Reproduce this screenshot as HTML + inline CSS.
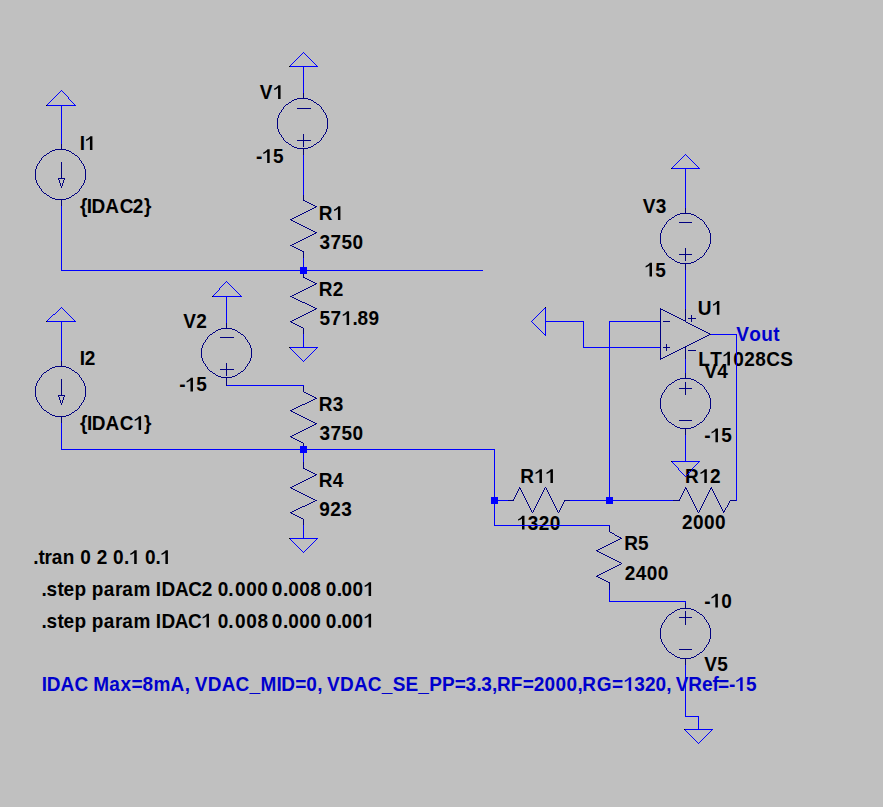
<!DOCTYPE html><html><head><meta charset="utf-8"><style>
html,body{margin:0;padding:0;background:#c0c0c0;}
body{width:883px;height:807px;overflow:hidden;}
svg{display:block;}
text{font-family:"Liberation Sans",sans-serif;font-weight:bold;font-size:19px;white-space:pre;}
</style></head><body>
<svg width="883" height="807" viewBox="0 0 883 807">
<rect x="0" y="0" width="883" height="807" fill="#c0c0c0"/>
<g>
<text x="79.73" y="0" fill="#000000" transform="translate(0,150.00) scale(1,1.050)">I</text>
<path fill="#000000" transform="translate(84.73,150.00) scale(0.009277,-0.009741)" d="M830 0L560 0L560 1150C480 1080 390 1020 290 975C230 948 185 930 140 915L140 1075C260 1115 360 1175 440 1245C510 1305 565 1360 600 1409L830 1409Z"/>
<text x="79.94 86.83 91.58 105.33 119.72 132.64 143.90" y="0" fill="#000000" transform="translate(0,213.00) scale(1,1.050)">{IDAC2}</text>
<text x="79.73 84.73" y="0" fill="#000000" transform="translate(0,365.40) scale(1,1.050)">I2</text>
<text x="80.09 86.93 91.68 105.43 119.82 144.00" y="0" fill="#000000" transform="translate(0,430.00) scale(1,1.050)">{IDAC}</text>
<path fill="#000000" transform="translate(133.40,430.00) scale(0.009277,-0.009741)" d="M830 0L560 0L560 1150C480 1080 390 1020 290 975C230 948 185 930 140 915L140 1075C260 1115 360 1175 440 1245C510 1305 565 1360 600 1409L830 1409Z"/>
<text x="259.87" y="0" fill="#000000" transform="translate(0,99.00) scale(1,1.050)">V</text>
<path fill="#000000" transform="translate(272.87,99.00) scale(0.009277,-0.009741)" d="M830 0L560 0L560 1150C480 1080 390 1020 290 975C230 948 185 930 140 915L140 1075C260 1115 360 1175 440 1245C510 1305 565 1360 600 1409L830 1409Z"/>
<text x="255.96 272.96" y="0" fill="#000000" transform="translate(0,163.00) scale(1,1.050)">-5</text>
<path fill="#000000" transform="translate(261.96,163.00) scale(0.009277,-0.009741)" d="M830 0L560 0L560 1150C480 1080 390 1020 290 975C230 948 185 930 140 915L140 1075C260 1115 360 1175 440 1245C510 1305 565 1360 600 1409L830 1409Z"/>
<text x="318.73" y="0" fill="#000000" transform="translate(0,220.00) scale(1,1.050)">R</text>
<path fill="#000000" transform="translate(332.73,220.00) scale(0.009277,-0.009741)" d="M830 0L560 0L560 1150C480 1080 390 1020 290 975C230 948 185 930 140 915L140 1075C260 1115 360 1175 440 1245C510 1305 565 1360 600 1409L830 1409Z"/>
<text x="319.56 330.56 341.56 352.56" y="0" fill="#000000" transform="translate(0,249.00) scale(1,1.050)">3750</text>
<text x="318.73 332.73" y="0" fill="#000000" transform="translate(0,296.00) scale(1,1.050)">R2</text>
<text x="319.42 330.42 352.42 357.42 368.42" y="0" fill="#000000" transform="translate(0,325.00) scale(1,1.050)">57.89</text>
<path fill="#000000" transform="translate(341.42,325.00) scale(0.009277,-0.009741)" d="M830 0L560 0L560 1150C480 1080 390 1020 290 975C230 948 185 930 140 915L140 1075C260 1115 360 1175 440 1245C510 1305 565 1360 600 1409L830 1409Z"/>
<text x="183.37 196.37" y="0" fill="#000000" transform="translate(0,327.60) scale(1,1.050)">V2</text>
<text x="179.26 196.26" y="0" fill="#000000" transform="translate(0,391.40) scale(1,1.050)">-5</text>
<path fill="#000000" transform="translate(185.26,391.40) scale(0.009277,-0.009741)" d="M830 0L560 0L560 1150C480 1080 390 1020 290 975C230 948 185 930 140 915L140 1075C260 1115 360 1175 440 1245C510 1305 565 1360 600 1409L830 1409Z"/>
<text x="318.73 332.73" y="0" fill="#000000" transform="translate(0,410.50) scale(1,1.050)">R3</text>
<text x="319.56 330.56 341.56 352.56" y="0" fill="#000000" transform="translate(0,439.50) scale(1,1.050)">3750</text>
<text x="318.73 332.73" y="0" fill="#000000" transform="translate(0,486.50) scale(1,1.050)">R4</text>
<text x="319.34 330.34 341.34" y="0" fill="#000000" transform="translate(0,515.50) scale(1,1.050)">923</text>
<text x="520.23" y="0" fill="#000000" transform="translate(0,483.00) scale(1,1.050)">R</text>
<path fill="#000000" transform="translate(534.23,483.00) scale(0.009277,-0.009741)" d="M830 0L560 0L560 1150C480 1080 390 1020 290 975C230 948 185 930 140 915L140 1075C260 1115 360 1175 440 1245C510 1305 565 1360 600 1409L830 1409Z"/>
<path fill="#000000" transform="translate(545.23,483.00) scale(0.009277,-0.009741)" d="M830 0L560 0L560 1150C480 1080 390 1020 290 975C230 948 185 930 140 915L140 1075C260 1115 360 1175 440 1245C510 1305 565 1360 600 1409L830 1409Z"/>
<text x="527.80 538.80 549.80" y="0" fill="#000000" transform="translate(0,529.60) scale(1,1.050)">320</text>
<path fill="#000000" transform="translate(516.80,529.60) scale(0.009277,-0.009741)" d="M830 0L560 0L560 1150C480 1080 390 1020 290 975C230 948 185 930 140 915L140 1075C260 1115 360 1175 440 1245C510 1305 565 1360 600 1409L830 1409Z"/>
<text x="685.13 710.13" y="0" fill="#000000" transform="translate(0,483.00) scale(1,1.050)">R2</text>
<path fill="#000000" transform="translate(699.13,483.00) scale(0.009277,-0.009741)" d="M830 0L560 0L560 1150C480 1080 390 1020 290 975C230 948 185 930 140 915L140 1075C260 1115 360 1175 440 1245C510 1305 565 1360 600 1409L830 1409Z"/>
<text x="682.04 693.04 704.04 715.04" y="0" fill="#000000" transform="translate(0,529.40) scale(1,1.050)">2000</text>
<text x="697.66" y="0" fill="#000000" transform="translate(0,314.70) scale(1,1.050)">U</text>
<path fill="#000000" transform="translate(711.66,314.70) scale(0.009277,-0.009741)" d="M830 0L560 0L560 1150C480 1080 390 1020 290 975C230 948 185 930 140 915L140 1075C260 1115 360 1175 440 1245C510 1305 565 1360 600 1409L830 1409Z"/>
<text x="698.23 710.23 733.23 744.23 755.23 766.23 780.23" y="0" fill="#000000" transform="translate(0,365.50) scale(1,1.050)">LT028CS</text>
<path fill="#000000" transform="translate(722.23,365.50) scale(0.009277,-0.009741)" d="M830 0L560 0L560 1150C480 1080 390 1020 290 975C230 948 185 930 140 915L140 1075C260 1115 360 1175 440 1245C510 1305 565 1360 600 1409L830 1409Z"/>
<text x="736.17 749.17 761.17 773.17" y="0" fill="#0000cd" transform="translate(0,340.60) scale(1,1.050)">Vout</text>
<text x="642.77 655.77" y="0" fill="#000000" transform="translate(0,212.50) scale(1,1.050)">V3</text>
<text x="655.30" y="0" fill="#000000" transform="translate(0,276.50) scale(1,1.050)">5</text>
<path fill="#000000" transform="translate(644.30,276.50) scale(0.009277,-0.009741)" d="M830 0L560 0L560 1150C480 1080 390 1020 290 975C230 948 185 930 140 915L140 1075C260 1115 360 1175 440 1245C510 1305 565 1360 600 1409L830 1409Z"/>
<text x="704.17 717.17" y="0" fill="#000000" transform="translate(0,378.30) scale(1,1.050)">V4</text>
<text x="704.26 721.26" y="0" fill="#000000" transform="translate(0,442.30) scale(1,1.050)">-5</text>
<path fill="#000000" transform="translate(710.26,442.30) scale(0.009277,-0.009741)" d="M830 0L560 0L560 1150C480 1080 390 1020 290 975C230 948 185 930 140 915L140 1075C260 1115 360 1175 440 1245C510 1305 565 1360 600 1409L830 1409Z"/>
<text x="624.13 638.13" y="0" fill="#000000" transform="translate(0,550.20) scale(1,1.050)">R5</text>
<text x="624.74 635.74 646.74 657.74" y="0" fill="#000000" transform="translate(0,579.60) scale(1,1.050)">2400</text>
<text x="704.16 721.16" y="0" fill="#000000" transform="translate(0,607.50) scale(1,1.050)">-0</text>
<path fill="#000000" transform="translate(710.16,607.50) scale(0.009277,-0.009741)" d="M830 0L560 0L560 1150C480 1080 390 1020 290 975C230 948 185 930 140 915L140 1075C260 1115 360 1175 440 1245C510 1305 565 1360 600 1409L830 1409Z"/>
<text x="704.17 717.17" y="0" fill="#000000" transform="translate(0,671.00) scale(1,1.050)">V5</text>
<text x="33.31 38.45 44.59 51.73 62.87 75.01 80.15 91.39 96.64 107.79 112.95 123.97 140.02 145.05 155.63" y="0" fill="#000000" transform="translate(0,564.00) scale(1,1.050)">.tran 0 2 0. 0.</text>
<path fill="#000000" transform="translate(129.00,564.00) scale(0.009277,-0.009741)" d="M830 0L560 0L560 1150C480 1080 390 1020 290 975C230 948 185 930 140 915L140 1075C260 1115 360 1175 440 1245C510 1305 565 1360 600 1409L830 1409Z"/>
<path fill="#000000" transform="translate(160.20,564.00) scale(0.009277,-0.009741)" d="M830 0L560 0L560 1150C480 1080 390 1020 290 975C230 948 185 930 140 915L140 1075C260 1115 360 1175 440 1245C510 1305 565 1360 600 1409L830 1409Z"/>
<text x="41.56 46.57 57.59 63.60 74.62 86.63 91.65 103.84 115.04 122.24 133.44 150.63 155.83 161.43 174.90 188.37 201.84 212.84 217.85 228.21 235.05 246.15 257.25 267.50 271.75 282.95 288.15 299.35 310.18 321.02 325.85 336.74 341.63 352.51" y="0" fill="#000000" transform="translate(0,596.00) scale(1,1.050)">.step param IDAC2 0.000 0.008 0.00</text>
<path fill="#000000" transform="translate(363.40,596.00) scale(0.009277,-0.009741)" d="M830 0L560 0L560 1150C480 1080 390 1020 290 975C230 948 185 930 140 915L140 1075C260 1115 360 1175 440 1245C510 1305 565 1360 600 1409L830 1409Z"/>
<text x="41.56 46.57 57.59 63.60 74.62 86.63 91.65 103.84 115.04 122.24 133.44 150.63 155.83 161.43 174.72 188.01 212.58 217.85 228.21 235.05 246.22 257.40 267.57 271.75 282.95 288.15 299.35 310.18 321.02 325.85 336.74 341.63 352.51" y="0" fill="#000000" transform="translate(0,627.50) scale(1,1.050)">.step param IDAC 0.008 0.000 0.00</text>
<path fill="#000000" transform="translate(201.30,627.50) scale(0.009277,-0.009741)" d="M830 0L560 0L560 1150C480 1080 390 1020 290 975C230 948 185 930 140 915L140 1075C260 1115 360 1175 440 1245C510 1305 565 1360 600 1409L830 1409Z"/>
<path fill="#000000" transform="translate(363.40,627.50) scale(0.009277,-0.009741)" d="M830 0L560 0L560 1150C480 1080 390 1020 290 975C230 948 185 930 140 915L140 1075C260 1115 360 1175 440 1245C510 1305 565 1360 600 1409L830 1409Z"/>
<text x="41.73 46.65 60.57 74.49 88.41 93.33 109.38 120.43 131.48 142.53 153.57 170.62 184.67 189.72 194.77 207.71 221.65 235.60 249.54 260.48 276.42 281.36 295.30 306.25 317.19 322.13 327.07 339.99 353.90 367.82 381.74 392.65 405.48 418.31 429.14 441.96 454.79 465.62 476.45 481.27 492.10 496.93 510.85 522.78 533.70 544.63 555.55 566.48 577.40 582.33 596.72 612.11 634.20 644.89 655.59 666.28 670.98 675.67 688.28 701.89 712.50 718.11 729.05 745.92" y="0" fill="#0000cd" transform="translate(0,691.00) scale(1,1.050)">IDAC Max=8mA, VDAC_MID=0, VDAC_SE_PP=3.3,RF=2000,RG=320, VRef=-5</text>
<path fill="#0000cd" transform="translate(623.50,691.00) scale(0.009277,-0.009741)" d="M830 0L560 0L560 1150C480 1080 390 1020 290 975C230 948 185 930 140 915L140 1075C260 1115 360 1175 440 1245C510 1305 565 1360 600 1409L830 1409Z"/>
<path fill="#0000cd" transform="translate(734.98,691.00) scale(0.009277,-0.009741)" d="M830 0L560 0L560 1150C480 1080 390 1020 290 975C230 948 185 930 140 915L140 1075C260 1115 360 1175 440 1245C510 1305 565 1360 600 1409L830 1409Z"/>
</g>
<g shape-rendering="crispEdges">
<path fill="#000080" d="M295 222h2v1h-2zM679 222h13v1h-13zM44 155h2v1h-2zM75 155h2v1h-2zM314 424h2v1h-2zM672 424h2v1h-2zM697 424h2v1h-2zM294 147h3v1h-3zM308 147h3v1h-3zM293 221h2v1h-2zM44 372h2v1h-2zM75 372h2v1h-2zM213 373h2v1h-2zM238 373h2v1h-2zM292 486h2v1h-2zM292 244h2v1h-2zM672 612h2v1h-2zM697 612h2v1h-2zM680 608h11v1h-11zM307 402h2v1h-2zM309 401h2v1h-2zM55 366h11v1h-11zM679 388h13v1h-13zM47 195h2v1h-2zM72 195h2v1h-2zM687 345h2v1h-2zM677 350h2v1h-2zM688 350h8v1h-8zM306 428h2v1h-2zM680 428h11v1h-11zM294 99h3v1h-3zM308 99h3v1h-3zM220 369h14v1h-14zM708 333h2v1h-2zM290 487h2v1h-2zM617 561h2v1h-2zM609 557h2v1h-2zM297 140h14v1h-14zM310 235h2v1h-2zM292 511h2v1h-2zM723 511h2v1h-2zM55 199h11v1h-11zM44 410h2v1h-2zM75 410h2v1h-2zM290 410h2v1h-2zM309 497h2v1h-2zM221 377h11v1h-11zM613 567h2v1h-2zM303 494h2v1h-2zM673 352h2v1h-2zM302 213h2v1h-2zM680 213h11v1h-11zM660 358h3v1h-3zM672 382h2v1h-2zM697 382h2v1h-2zM303 226h2v1h-2zM213 332h2v1h-2zM238 332h2v1h-2zM706 332h2v1h-2zM294 510h2v1h-2zM294 408h2v1h-2zM679 349h2v1h-2zM315 500h2v1h-2zM508 500h6v1h-6zM564 500h6v1h-6zM673 500h7v1h-7zM730 500h6v1h-6zM297 223h2v1h-2zM307 496h2v1h-2zM210 334h2v1h-2zM241 334h2v1h-2zM709 334h2v1h-2zM680 263h11v1h-11zM297 491h2v1h-2zM47 153h2v1h-2zM72 153h2v1h-2zM307 504h2v1h-2zM691 343h2v1h-2zM58 395h7v1h-7zM310 395h2v1h-2zM695 341h2v1h-2zM292 409h2v1h-2zM290 219h2v1h-2zM669 219h2v1h-2zM700 219h2v1h-2zM313 499h2v1h-2zM679 649h13v1h-13zM309 420h2v1h-2zM679 420h13v1h-13zM55 149h11v1h-11zM681 348h2v1h-2zM308 210h2v1h-2zM302 404h3v1h-3zM298 317h2v1h-2zM677 317h2v1h-2zM299 326h2v1h-2zM694 326h2v1h-2zM679 617h13v1h-13zM598 577h2v1h-2zM302 251h2v1h-2zM294 247h2v1h-2zM50 414h2v1h-2zM69 414h2v1h-2zM297 414h2v1h-2zM301 327h2v1h-2zM696 327h2v1h-2zM293 323h2v1h-2zM688 323h2v1h-2zM296 248h2v1h-2zM305 201h2v1h-2zM297 108h14v1h-14zM304 238h2v1h-2zM313 422h2v1h-2zM669 422h2v1h-2zM700 422h2v1h-2zM620 538h2v1h-2zM305 418h2v1h-2zM679 254h13v1h-13zM306 237h2v1h-2zM52 198h3v1h-3zM66 198h3v1h-3zM669 614h2v1h-2zM700 614h2v1h-2zM300 507h2v1h-2zM315 398h2v1h-2zM218 376h3v1h-3zM232 376h3v1h-3zM295 490h2v1h-2zM605 571h2v1h-2zM301 493h2v1h-2zM672 654h2v1h-2zM697 654h2v1h-2zM58 178h7v1h-7zM313 399h2v1h-2zM310 209h2v1h-2zM601 573h2v1h-2zM300 316h2v1h-2zM675 316h2v1h-2zM306 211h2v1h-2zM302 506h3v1h-3zM707 335h2v1h-2zM301 225h2v1h-2zM675 351h2v1h-2zM669 384h2v1h-2zM700 384h2v1h-2zM315 232h2v1h-2zM300 214h2v1h-2zM677 214h3v1h-3zM691 214h3v1h-3zM699 339h2v1h-2zM286 142h2v1h-2zM317 142h2v1h-2zM290 245h2v1h-2zM603 572h2v1h-2zM313 501h2v1h-2zM292 218h2v1h-2zM675 610h2v1h-2zM694 610h2v1h-2zM311 502h2v1h-2zM297 325h2v1h-2zM692 325h2v1h-2zM291 488h2v1h-2zM519 488h2v1h-2zM685 488h2v1h-2zM710 488h2v1h-2zM608 544h2v1h-2zM308 287h2v1h-2zM298 508h2v1h-2zM221 328h11v1h-11zM698 328h2v1h-2zM308 394h2v1h-2zM306 393h2v1h-2zM299 224h2v1h-2zM305 227h2v1h-2zM216 375h2v1h-2zM235 375h2v1h-2zM701 338h2v1h-2zM295 413h2v1h-2zM292 320h2v1h-2zM683 320h3v1h-3zM218 329h3v1h-3zM232 329h3v1h-3zM700 329h2v1h-2zM615 560h2v1h-2zM607 556h2v1h-2zM300 405h2v1h-2zM298 215h2v1h-2zM675 215h2v1h-2zM694 215h2v1h-2zM669 652h2v1h-2zM700 652h2v1h-2zM302 315h2v1h-2zM673 315h2v1h-2zM292 297h2v1h-2zM680 378h11v1h-11zM610 543h2v1h-2zM309 503h2v1h-2zM293 489h2v1h-2zM50 197h2v1h-2zM69 197h2v1h-2zM50 368h2v1h-2zM69 368h2v1h-2zM297 148h11v1h-11zM300 250h2v1h-2zM216 330h2v1h-2zM235 330h2v1h-2zM702 330h2v1h-2zM292 246h2v1h-2zM296 509h2v1h-2zM291 322h2v1h-2zM686 322h2v1h-2zM291 411h2v1h-2zM609 569h2v1h-2zM296 293h2v1h-2zM669 354h2v1h-2zM311 421h2v1h-2zM619 537h2v1h-2zM303 417h2v1h-2zM290 321h2v1h-2zM663 321h7v1h-7zM313 282h2v1h-2zM315 283h2v1h-2zM307 279h2v1h-2zM300 240h2v1h-2zM305 403h2v1h-2zM302 430h2v1h-2zM663 347h7v1h-7zM683 347h3v1h-3zM220 337h14v1h-14zM703 337h2v1h-2zM312 208h2v1h-2zM290 512h2v1h-2zM292 146h2v1h-2zM311 146h2v1h-2zM303 200h2v1h-2zM300 482h2v1h-2zM598 549h2v1h-2zM298 292h2v1h-2zM296 407h2v1h-2zM311 204h2v1h-2zM677 609h3v1h-3zM691 609h3v1h-3zM677 262h3v1h-3zM691 262h3v1h-3zM292 100h2v1h-2zM311 100h2v1h-2zM55 416h11v1h-11zM301 416h2v1h-2zM619 562h2v1h-2zM294 319h2v1h-2zM681 319h2v1h-2zM613 559h2v1h-2zM680 658h11v1h-11zM312 425h2v1h-2zM311 498h2v1h-2zM47 412h2v1h-2zM72 412h2v1h-2zM293 412h2v1h-2zM309 203h2v1h-2zM302 239h2v1h-2zM675 380h2v1h-2zM694 380h2v1h-2zM290 296h2v1h-2zM298 249h2v1h-2zM299 492h2v1h-2zM305 505h2v1h-2zM291 220h2v1h-2zM314 309h2v1h-2zM660 309h3v1h-3zM304 289h2v1h-2zM295 324h2v1h-2zM690 324h2v1h-2zM292 435h2v1h-2zM305 495h2v1h-2zM311 400h2v1h-2zM308 312h2v1h-2zM667 312h2v1h-2zM52 150h3v1h-3zM66 150h3v1h-3zM52 415h3v1h-3zM66 415h3v1h-3zM299 415h2v1h-2zM50 151h2v1h-2zM69 151h2v1h-2zM697 340h2v1h-2zM296 318h2v1h-2zM679 318h2v1h-2zM688 318h8v1h-8zM704 331h2v1h-2zM304 314h2v1h-2zM671 314h2v1h-2zM310 311h2v1h-2zM665 311h2v1h-2zM612 533h2v1h-2zM611 568h2v1h-2zM689 344h2v1h-2zM52 367h3v1h-3zM66 367h3v1h-3zM289 144h2v1h-2zM314 144h2v1h-2zM296 216h2v1h-2zM677 379h3v1h-3zM691 379h3v1h-3zM294 217h2v1h-2zM672 217h2v1h-2zM697 217h2v1h-2zM298 406h2v1h-2zM299 517h2v1h-2zM611 558h2v1h-2zM603 554h2v1h-2zM301 518h2v1h-2zM294 294h2v1h-2zM313 307h2v1h-2zM304 392h2v1h-2zM618 539h2v1h-2zM314 284h2v1h-2zM297 98h11v1h-11zM677 657h3v1h-3zM691 657h3v1h-3zM605 555h2v1h-2zM307 202h2v1h-2zM308 236h2v1h-2zM705 336h2v1h-2zM606 545h2v1h-2zM304 429h2v1h-2zM671 353h2v1h-2zM308 478h2v1h-2zM619 564h2v1h-2zM306 288h2v1h-2zM307 419h2v1h-2zM617 536h2v1h-2zM675 261h2v1h-2zM694 261h2v1h-2zM313 205h2v1h-2zM298 241h2v1h-2zM315 206h2v1h-2zM305 278h2v1h-2zM310 477h2v1h-2zM298 432h2v1h-2zM299 441h2v1h-2zM297 516h2v1h-2zM313 231h2v1h-2zM667 355h2v1h-2zM312 396h2v1h-2zM607 570h2v1h-2zM306 313h2v1h-2zM669 313h2v1h-2zM693 342h2v1h-2zM313 473h2v1h-2zM669 257h2v1h-2zM700 257h2v1h-2zM300 431h2v1h-2zM308 427h2v1h-2zM677 427h3v1h-3zM691 427h3v1h-3zM600 548h2v1h-2zM596 550h2v1h-2zM302 481h2v1h-2zM597 551h2v1h-2zM298 483h2v1h-2zM304 212h2v1h-2zM307 228h2v1h-2zM47 370h2v1h-2zM72 370h2v1h-2zM309 280h2v1h-2zM311 281h2v1h-2zM303 277h2v1h-2zM675 656h2v1h-2zM694 656h2v1h-2zM665 356h2v1h-2zM294 434h2v1h-2zM295 515h2v1h-2zM297 440h2v1h-2zM314 397h2v1h-2zM312 310h2v1h-2zM663 310h2v1h-2zM306 479h2v1h-2zM601 553h2v1h-2zM311 306h2v1h-2zM291 513h2v1h-2zM305 303h2v1h-2zM314 207h2v1h-2zM294 243h2v1h-2zM608 582h2v1h-2zM44 193h2v1h-2zM75 193h2v1h-2zM294 485h2v1h-2zM616 540h2v1h-2zM292 295h2v1h-2zM314 475h2v1h-2zM295 439h2v1h-2zM315 308h2v1h-2zM293 514h2v1h-2zM672 259h2v1h-2zM697 259h2v1h-2zM310 426h2v1h-2zM675 426h2v1h-2zM694 426h2v1h-2zM604 546h2v1h-2zM290 436h2v1h-2zM311 230h2v1h-2zM599 552h2v1h-2zM309 305h2v1h-2zM289 102h2v1h-2zM314 102h2v1h-2zM294 298h2v1h-2zM311 472h2v1h-2zM305 469h2v1h-2zM315 423h2v1h-2zM210 371h2v1h-2zM241 371h2v1h-2zM296 242h2v1h-2zM600 578h2v1h-2zM296 433h2v1h-2zM314 233h2v1h-2zM293 438h2v1h-2zM612 542h2v1h-2zM312 285h2v1h-2zM685 346h2v1h-2zM597 575h2v1h-2zM307 304h2v1h-2zM309 229h2v1h-2zM300 301h2v1h-2zM614 541h2v1h-2zM599 574h2v1h-2zM309 471h2v1h-2zM303 468h2v1h-2zM617 565h2v1h-2zM300 291h2v1h-2zM302 302h3v1h-3zM286 104h2v1h-2zM317 104h2v1h-2zM606 581h2v1h-2zM602 547h2v1h-2zM663 357h2v1h-2zM301 442h2v1h-2zM296 484h2v1h-2zM298 300h2v1h-2zM315 474h2v1h-2zM307 470h2v1h-2zM312 234h2v1h-2zM602 579h2v1h-2zM604 580h2v1h-2zM596 576h2v1h-2zM615 566h2v1h-2zM304 480h2v1h-2zM302 290h2v1h-2zM291 437h2v1h-2zM312 476h2v1h-2zM310 286h2v1h-2zM296 299h2v1h-2zM615 535h2v1h-2zM610 532h2v1h-2zM666 222h1v2h-1zM666 253h1v2h-1zM666 344h1v3h-1zM666 348h1v3h-1zM666 387h1v2h-1zM666 418h1v2h-1zM666 617h1v2h-1zM666 648h1v2h-1zM704 222h1v2h-1zM704 253h1v2h-1zM704 387h1v2h-1zM704 418h1v2h-1zM704 500h1v2h-1zM704 617h1v2h-1zM704 648h1v2h-1zM61 144h1v5h-1zM61 162h1v16h-1zM61 186h1v2h-1zM61 200h1v6h-1zM61 361h1v5h-1zM61 379h1v16h-1zM61 403h1v2h-1zM61 417h1v6h-1zM288 103h1v1h-1zM288 143h1v1h-1zM303 93h1v5h-1zM303 134h1v6h-1zM303 141h1v6h-1zM303 149h1v6h-1zM303 195h1v5h-1zM303 252h1v6h-1zM303 274h1v3h-1zM303 328h1v6h-1zM303 386h1v6h-1zM303 443h1v3h-1zM303 462h1v6h-1zM303 519h1v6h-1zM316 103h1v1h-1zM316 143h1v1h-1zM667 221h1v1h-1zM667 255h1v1h-1zM667 386h1v1h-1zM667 420h1v1h-1zM667 616h1v1h-1zM667 650h1v1h-1zM703 221h1v1h-1zM703 255h1v1h-1zM703 386h1v1h-1zM703 420h1v1h-1zM703 502h1v2h-1zM703 616h1v1h-1zM703 650h1v1h-1zM212 333h1v1h-1zM212 372h1v1h-1zM226 323h1v5h-1zM226 363h1v6h-1zM226 370h1v6h-1zM226 378h1v8h-1zM240 333h1v1h-1zM240 372h1v1h-1zM43 156h1v1h-1zM43 192h1v1h-1zM43 373h1v1h-1zM43 409h1v1h-1zM77 156h1v1h-1zM77 192h1v1h-1zM77 373h1v1h-1zM77 409h1v1h-1zM685 208h1v5h-1zM685 248h1v6h-1zM685 255h1v6h-1zM685 264h1v6h-1zM685 309h1v11h-1zM685 321h1v1h-1zM685 348h1v11h-1zM685 373h1v5h-1zM685 382h1v6h-1zM685 389h1v6h-1zM685 429h1v6h-1zM685 487h1v1h-1zM685 603h1v5h-1zM685 611h1v6h-1zM685 618h1v7h-1zM685 659h1v6h-1zM674 216h1v1h-1zM674 260h1v1h-1zM674 381h1v1h-1zM674 425h1v1h-1zM674 611h1v1h-1zM674 655h1v1h-1zM696 216h1v1h-1zM696 260h1v1h-1zM696 381h1v1h-1zM696 425h1v1h-1zM696 508h1v2h-1zM696 611h1v1h-1zM696 655h1v1h-1zM661 230h1v3h-1zM661 244h1v3h-1zM661 395h1v3h-1zM661 409h1v3h-1zM661 625h1v3h-1zM661 639h1v3h-1zM709 230h1v3h-1zM709 244h1v3h-1zM709 395h1v3h-1zM709 409h1v3h-1zM709 490h1v2h-1zM709 625h1v3h-1zM709 639h1v3h-1zM205 340h1v2h-1zM205 364h1v2h-1zM247 340h1v2h-1zM247 364h1v2h-1zM38 163h1v1h-1zM38 185h1v1h-1zM38 380h1v1h-1zM38 402h1v1h-1zM60 183h1v3h-1zM60 400h1v3h-1zM62 183h1v3h-1zM62 400h1v3h-1zM82 163h1v1h-1zM82 185h1v1h-1zM82 380h1v1h-1zM82 402h1v1h-1zM660 233h1v11h-1zM660 308h1v1h-1zM660 310h1v48h-1zM660 359h1v1h-1zM660 398h1v11h-1zM660 628h1v11h-1zM710 233h1v11h-1zM710 398h1v11h-1zM710 489h1v1h-1zM710 628h1v11h-1zM37 164h1v2h-1zM37 183h1v2h-1zM37 381h1v2h-1zM37 400h1v2h-1zM83 164h1v2h-1zM83 183h1v2h-1zM83 381h1v2h-1zM83 400h1v2h-1zM36 166h1v3h-1zM36 180h1v3h-1zM36 383h1v3h-1zM36 397h1v3h-1zM59 180h1v3h-1zM59 397h1v3h-1zM63 180h1v3h-1zM63 397h1v3h-1zM84 166h1v3h-1zM84 180h1v3h-1zM84 383h1v3h-1zM84 397h1v3h-1zM206 339h1v1h-1zM206 366h1v1h-1zM246 339h1v1h-1zM246 366h1v1h-1zM35 169h1v11h-1zM35 386h1v11h-1zM85 169h1v11h-1zM85 386h1v11h-1zM202 345h1v3h-1zM202 358h1v3h-1zM250 345h1v3h-1zM250 358h1v3h-1zM201 348h1v10h-1zM251 348h1v10h-1zM49 152h1v1h-1zM49 196h1v1h-1zM49 369h1v1h-1zM49 413h1v1h-1zM71 152h1v1h-1zM71 196h1v1h-1zM71 369h1v1h-1zM71 413h1v1h-1zM208 336h1v1h-1zM208 369h1v1h-1zM244 336h1v1h-1zM244 369h1v1h-1zM668 220h1v1h-1zM668 256h1v1h-1zM668 385h1v1h-1zM668 421h1v1h-1zM668 615h1v1h-1zM668 651h1v1h-1zM702 220h1v1h-1zM702 256h1v1h-1zM702 385h1v1h-1zM702 421h1v1h-1zM702 504h1v2h-1zM702 615h1v1h-1zM702 651h1v1h-1zM519 487h1v1h-1zM545 487h1v1h-1zM711 487h1v1h-1zM284 106h1v1h-1zM284 140h1v1h-1zM320 106h1v1h-1zM320 140h1v1h-1zM531 510h1v2h-1zM533 510h1v2h-1zM557 510h1v2h-1zM559 510h1v2h-1zM697 510h1v2h-1zM699 218h1v1h-1zM699 258h1v1h-1zM699 383h1v1h-1zM699 423h1v1h-1zM699 510h1v2h-1zM699 613h1v1h-1zM699 653h1v1h-1zM514 497h1v2h-1zM524 496h1v2h-1zM540 496h1v2h-1zM550 496h1v2h-1zM680 497h1v2h-1zM690 496h1v2h-1zM706 225h1v2h-1zM706 250h1v2h-1zM706 390h1v2h-1zM706 415h1v2h-1zM706 496h1v2h-1zM706 620h1v2h-1zM706 645h1v2h-1zM716 497h1v2h-1zM40 160h1v1h-1zM40 188h1v1h-1zM40 377h1v1h-1zM40 405h1v1h-1zM80 160h1v1h-1zM80 188h1v1h-1zM80 377h1v1h-1zM80 405h1v1h-1zM516 493h1v2h-1zM523 494h1v2h-1zM541 494h1v2h-1zM549 494h1v2h-1zM682 493h1v2h-1zM689 494h1v2h-1zM707 227h1v1h-1zM707 249h1v1h-1zM707 392h1v1h-1zM707 414h1v1h-1zM707 494h1v2h-1zM707 622h1v1h-1zM707 644h1v1h-1zM714 493h1v2h-1zM277 118h1v11h-1zM327 118h1v11h-1zM664 225h1v2h-1zM664 250h1v2h-1zM664 390h1v2h-1zM664 415h1v2h-1zM664 620h1v2h-1zM664 645h1v2h-1zM722 509h1v2h-1zM724 510h1v1h-1zM42 157h1v1h-1zM42 191h1v1h-1zM42 374h1v1h-1zM42 408h1v1h-1zM78 157h1v1h-1zM78 191h1v1h-1zM78 374h1v1h-1zM78 408h1v1h-1zM280 112h1v1h-1zM280 134h1v1h-1zM324 112h1v1h-1zM324 134h1v1h-1zM526 500h1v2h-1zM538 500h1v2h-1zM552 500h1v2h-1zM692 500h1v2h-1zM717 499h1v2h-1zM515 495h1v2h-1zM681 495h1v2h-1zM715 495h1v2h-1zM517 491h1v2h-1zM521 490h1v2h-1zM543 490h1v2h-1zM547 490h1v2h-1zM683 491h1v2h-1zM687 490h1v2h-1zM713 491h1v2h-1zM528 504h1v2h-1zM536 504h1v2h-1zM554 504h1v2h-1zM562 504h1v2h-1zM694 504h1v2h-1zM719 503h1v2h-1zM728 503h1v2h-1zM203 343h1v2h-1zM203 361h1v2h-1zM249 343h1v2h-1zM249 361h1v2h-1zM513 499h1v1h-1zM525 498h1v2h-1zM539 498h1v2h-1zM551 498h1v2h-1zM679 499h1v1h-1zM691 315h1v3h-1zM691 319h1v3h-1zM691 498h1v2h-1zM705 224h1v1h-1zM705 252h1v1h-1zM705 389h1v1h-1zM705 417h1v1h-1zM705 498h1v2h-1zM705 619h1v1h-1zM705 647h1v1h-1zM39 161h1v2h-1zM39 186h1v2h-1zM39 378h1v2h-1zM39 403h1v2h-1zM81 161h1v2h-1zM81 186h1v2h-1zM81 378h1v2h-1zM81 403h1v2h-1zM609 526h1v6h-1zM609 583h1v7h-1zM662 228h1v2h-1zM662 247h1v2h-1zM662 393h1v2h-1zM662 412h1v2h-1zM662 623h1v2h-1zM662 642h1v2h-1zM708 228h1v2h-1zM708 247h1v2h-1zM708 393h1v2h-1zM708 412h1v2h-1zM708 492h1v2h-1zM708 623h1v2h-1zM708 642h1v2h-1zM663 227h1v1h-1zM663 249h1v1h-1zM663 392h1v1h-1zM663 414h1v1h-1zM663 622h1v1h-1zM663 644h1v1h-1zM283 107h1v2h-1zM283 138h1v2h-1zM321 107h1v2h-1zM321 138h1v2h-1zM529 506h1v2h-1zM535 506h1v2h-1zM555 506h1v2h-1zM561 506h1v2h-1zM695 506h1v2h-1zM701 506h1v2h-1zM721 507h1v2h-1zM726 507h1v1h-1zM41 158h1v2h-1zM41 189h1v2h-1zM41 375h1v2h-1zM41 406h1v2h-1zM79 158h1v2h-1zM79 189h1v2h-1zM79 375h1v2h-1zM79 406h1v2h-1zM518 489h1v2h-1zM684 489h1v2h-1zM712 489h1v2h-1zM522 492h1v2h-1zM542 492h1v2h-1zM548 492h1v2h-1zM688 492h1v2h-1zM279 113h1v2h-1zM279 132h1v2h-1zM325 113h1v2h-1zM325 132h1v2h-1zM720 505h1v2h-1zM727 505h1v2h-1zM209 335h1v1h-1zM209 370h1v1h-1zM243 335h1v1h-1zM243 370h1v1h-1zM564 501h1v1h-1zM718 501h1v2h-1zM729 501h1v2h-1zM671 218h1v1h-1zM671 258h1v1h-1zM671 383h1v1h-1zM671 423h1v1h-1zM671 613h1v1h-1zM671 653h1v1h-1zM527 502h1v2h-1zM537 502h1v2h-1zM553 502h1v2h-1zM563 502h1v2h-1zM693 502h1v2h-1zM291 101h1v1h-1zM291 145h1v1h-1zM313 101h1v1h-1zM313 145h1v1h-1zM544 488h1v2h-1zM546 488h1v2h-1zM530 508h1v2h-1zM534 508h1v2h-1zM556 508h1v2h-1zM560 508h1v2h-1zM700 508h1v2h-1zM725 508h1v2h-1zM665 224h1v1h-1zM665 252h1v1h-1zM665 389h1v1h-1zM665 417h1v1h-1zM665 619h1v1h-1zM665 647h1v1h-1zM207 337h1v2h-1zM207 367h1v2h-1zM245 337h1v2h-1zM245 367h1v2h-1zM520 489h1v1h-1zM686 489h1v1h-1zM215 331h1v1h-1zM215 374h1v1h-1zM237 331h1v1h-1zM237 374h1v1h-1zM46 154h1v1h-1zM46 194h1v1h-1zM46 371h1v1h-1zM46 411h1v1h-1zM74 154h1v1h-1zM74 194h1v1h-1zM74 371h1v1h-1zM74 411h1v1h-1zM532 512h1v1h-1zM558 512h1v1h-1zM698 512h1v1h-1zM723 512h1v1h-1zM614 534h1v1h-1zM278 115h1v3h-1zM278 129h1v3h-1zM326 115h1v3h-1zM326 129h1v3h-1zM281 110h1v2h-1zM281 135h1v2h-1zM323 110h1v2h-1zM323 135h1v2h-1zM621 563h1v1h-1zM204 342h1v1h-1zM204 363h1v1h-1zM248 342h1v1h-1zM248 363h1v1h-1zM285 105h1v1h-1zM285 141h1v1h-1zM319 105h1v1h-1zM319 141h1v1h-1zM58 179h1v1h-1zM58 396h1v1h-1zM64 179h1v1h-1zM64 396h1v1h-1zM282 109h1v1h-1zM282 137h1v1h-1zM322 109h1v1h-1zM322 137h1v1h-1z"/>
<path fill="#0000ff" d="M494 525h116v1h-116zM544 334h2v1h-2zM711 334h26v1h-26zM61 270h422v1h-422zM685 716h14v1h-14zM685 729h28v1h-28zM61 449h434v1h-434zM300 271h7v1h-7zM290 347h28v1h-28zM583 347h77v1h-77zM47 321h29v1h-29zM545 321h39v1h-39zM609 321h51v1h-51zM491 498h7v1h-7zM606 498h7v1h-7zM227 385h77v1h-77zM300 272h7v1h-7zM491 499h7v1h-7zM606 499h7v1h-7zM491 500h17v1h-17zM570 500h103v1h-103zM609 601h77v1h-77zM213 296h29v1h-29zM300 451h7v1h-7zM672 168h28v1h-28zM491 497h7v1h-7zM606 497h7v1h-7zM300 448h7v1h-7zM491 502h7v1h-7zM606 502h7v1h-7zM672 461h28v1h-28zM290 66h28v1h-28zM491 503h7v1h-7zM606 503h7v1h-7zM491 501h7v1h-7zM606 501h7v1h-7zM300 268h7v1h-7zM300 450h7v1h-7zM300 267h7v1h-7zM300 273h7v1h-7zM290 538h28v1h-28zM300 269h7v1h-7zM47 105h29v1h-29zM300 447h7v1h-7zM300 452h7v1h-7zM544 308h2v1h-2zM300 446h7v1h-7zM53 314h2v1h-2zM303 52h1v1h-1zM303 67h1v26h-1zM303 155h1v40h-1zM303 258h1v9h-1zM303 334h1v13h-1zM303 361h1v1h-1zM303 453h1v9h-1zM303 525h1v13h-1zM303 552h1v1h-1zM61 90h1v1h-1zM61 106h1v38h-1zM61 206h1v64h-1zM61 307h1v1h-1zM61 322h1v39h-1zM61 423h1v26h-1zM583 322h1v25h-1zM609 322h1v25h-1zM609 348h1v149h-1zM609 590h1v11h-1zM685 154h1v1h-1zM685 169h1v39h-1zM685 270h1v39h-1zM685 359h1v14h-1zM685 435h1v26h-1zM685 476h1v1h-1zM685 602h1v1h-1zM685 665h1v51h-1zM685 730h1v1h-1zM55 96h1v1h-1zM55 313h1v1h-1zM67 96h1v1h-1zM67 313h1v1h-1zM226 281h1v1h-1zM226 297h1v26h-1zM539 313h1v1h-1zM539 329h1v1h-1zM545 309h1v12h-1zM545 322h1v12h-1zM545 335h1v1h-1zM736 335h1v166h-1zM535 317h1v1h-1zM535 325h1v1h-1zM494 450h1v47h-1zM494 504h1v21h-1zM673 166h1v1h-1zM673 463h1v1h-1zM697 166h1v1h-1zM697 463h1v1h-1zM697 742h1v1h-1zM531 321h1v1h-1zM54 97h1v1h-1zM68 97h1v2h-1zM68 314h1v1h-1zM676 163h1v1h-1zM676 466h1v1h-1zM694 163h1v1h-1zM694 466h1v1h-1zM694 739h1v1h-1zM297 58h1v1h-1zM297 355h1v1h-1zM297 546h1v1h-1zM309 58h1v1h-1zM309 355h1v1h-1zM309 546h1v1h-1zM57 94h1v1h-1zM57 311h1v1h-1zM65 94h1v1h-1zM65 311h1v1h-1zM541 311h1v1h-1zM541 331h1v1h-1zM677 162h1v1h-1zM677 467h1v1h-1zM693 162h1v1h-1zM693 467h1v1h-1zM693 738h1v1h-1zM542 310h1v1h-1zM542 332h1v1h-1zM60 91h1v1h-1zM60 308h1v1h-1zM62 91h1v1h-1zM62 308h1v1h-1zM534 318h1v1h-1zM534 324h1v1h-1zM47 104h1v1h-1zM47 320h1v1h-1zM74 104h1v1h-1zM74 320h1v1h-1zM532 320h1v1h-1zM532 322h1v1h-1zM540 312h1v1h-1zM540 330h1v1h-1zM684 155h1v1h-1zM684 475h1v1h-1zM686 155h1v1h-1zM686 475h1v1h-1zM686 731h1v1h-1zM703 738h1v1h-1zM222 285h1v1h-1zM230 285h1v1h-1zM302 53h1v1h-1zM302 360h1v1h-1zM302 551h1v1h-1zM304 53h1v1h-1zM304 360h1v1h-1zM304 551h1v1h-1zM300 55h1v1h-1zM300 358h1v1h-1zM300 549h1v1h-1zM306 55h1v1h-1zM306 358h1v1h-1zM306 549h1v1h-1zM48 103h1v1h-1zM48 319h1v1h-1zM73 103h1v1h-1zM73 319h1v1h-1zM533 319h1v1h-1zM533 323h1v1h-1zM214 294h1v1h-1zM239 294h1v1h-1zM58 93h1v1h-1zM58 310h1v1h-1zM64 93h1v1h-1zM64 310h1v1h-1zM290 65h1v1h-1zM290 348h1v1h-1zM290 539h1v1h-1zM316 65h1v1h-1zM316 348h1v1h-1zM316 539h1v1h-1zM678 161h1v1h-1zM678 468h1v2h-1zM692 161h1v1h-1zM692 468h1v2h-1zM692 737h1v1h-1zM295 60h1v1h-1zM295 353h1v1h-1zM295 544h1v1h-1zM311 60h1v1h-1zM311 353h1v1h-1zM311 544h1v1h-1zM294 61h1v1h-1zM294 352h1v1h-1zM294 543h1v1h-1zM312 61h1v1h-1zM312 352h1v1h-1zM312 543h1v1h-1zM682 157h1v1h-1zM682 473h1v1h-1zM688 157h1v1h-1zM688 473h1v1h-1zM688 733h1v1h-1zM223 284h1v1h-1zM229 284h1v1h-1zM50 101h1v1h-1zM50 317h1v1h-1zM71 101h1v1h-1zM71 317h1v1h-1zM698 167h1v1h-1zM698 462h1v1h-1zM698 717h1v12h-1zM698 743h1v1h-1zM680 159h1v1h-1zM680 471h1v1h-1zM690 159h1v1h-1zM690 471h1v1h-1zM690 735h1v1h-1zM52 99h1v1h-1zM52 315h1v1h-1zM69 99h1v1h-1zM69 315h1v1h-1zM537 315h1v1h-1zM537 327h1v1h-1zM543 309h1v1h-1zM543 333h1v1h-1zM296 59h1v1h-1zM296 354h1v1h-1zM296 545h1v1h-1zM310 59h1v1h-1zM310 354h1v1h-1zM310 545h1v1h-1zM301 54h1v1h-1zM301 359h1v1h-1zM301 550h1v1h-1zM305 54h1v1h-1zM305 359h1v1h-1zM305 550h1v1h-1zM292 63h1v1h-1zM292 350h1v1h-1zM292 541h1v1h-1zM314 63h1v1h-1zM314 350h1v1h-1zM314 541h1v1h-1zM59 92h1v1h-1zM59 309h1v1h-1zM63 92h1v1h-1zM63 309h1v1h-1zM216 292h1v1h-1zM237 292h1v1h-1zM215 293h1v1h-1zM238 293h1v1h-1zM675 164h1v1h-1zM675 465h1v1h-1zM695 164h1v1h-1zM695 465h1v1h-1zM695 740h1v1h-1zM674 165h1v1h-1zM674 464h1v1h-1zM696 165h1v1h-1zM696 464h1v1h-1zM696 741h1v1h-1zM299 56h1v1h-1zM299 357h1v1h-1zM299 548h1v1h-1zM307 56h1v1h-1zM307 357h1v1h-1zM307 548h1v1h-1zM298 57h1v1h-1zM298 356h1v1h-1zM298 547h1v1h-1zM308 57h1v1h-1zM308 356h1v1h-1zM308 547h1v1h-1zM51 100h1v1h-1zM51 316h1v1h-1zM70 100h1v1h-1zM70 316h1v1h-1zM536 316h1v1h-1zM536 326h1v1h-1zM53 98h1v1h-1zM213 295h1v1h-1zM240 295h1v1h-1zM681 158h1v1h-1zM681 472h1v1h-1zM689 158h1v1h-1zM689 472h1v1h-1zM689 734h1v1h-1zM221 286h1v1h-1zM231 286h1v1h-1zM56 95h1v1h-1zM56 312h1v1h-1zM66 95h1v1h-1zM66 312h1v1h-1zM672 167h1v1h-1zM672 462h1v1h-1zM49 102h1v1h-1zM49 318h1v1h-1zM72 102h1v1h-1zM72 318h1v1h-1zM679 160h1v1h-1zM679 470h1v1h-1zM691 160h1v1h-1zM691 470h1v1h-1zM691 736h1v1h-1zM220 287h1v1h-1zM232 287h1v1h-1zM701 740h1v1h-1zM708 733h1v1h-1zM683 156h1v1h-1zM683 474h1v1h-1zM687 156h1v1h-1zM687 474h1v1h-1zM687 732h1v1h-1zM219 288h1v2h-1zM233 288h1v1h-1zM710 731h1v1h-1zM538 314h1v1h-1zM538 328h1v1h-1zM225 282h1v1h-1zM227 282h1v1h-1zM293 62h1v1h-1zM293 351h1v1h-1zM293 542h1v1h-1zM313 62h1v1h-1zM313 351h1v1h-1zM313 542h1v1h-1zM291 64h1v1h-1zM291 349h1v1h-1zM291 540h1v1h-1zM315 64h1v1h-1zM315 349h1v1h-1zM315 540h1v1h-1zM234 289h1v1h-1zM702 739h1v1h-1zM218 290h1v1h-1zM235 290h1v1h-1zM709 732h1v1h-1zM706 735h1v1h-1zM217 291h1v1h-1zM236 291h1v1h-1zM707 734h1v1h-1zM705 736h1v1h-1zM704 737h1v1h-1zM224 283h1v1h-1zM228 283h1v1h-1zM711 730h1v1h-1zM699 742h1v1h-1zM700 741h1v1h-1z"/>
<path fill="#000000" d="M545 307h1v1h-1zM289 66h1v1h-1zM289 347h1v1h-1zM289 538h1v1h-1zM671 168h1v1h-1zM671 461h1v1h-1zM684 729h1v1h-1zM212 296h1v1h-1zM46 105h1v1h-1zM46 321h1v1h-1z"/>
</g>
</svg></body></html>
